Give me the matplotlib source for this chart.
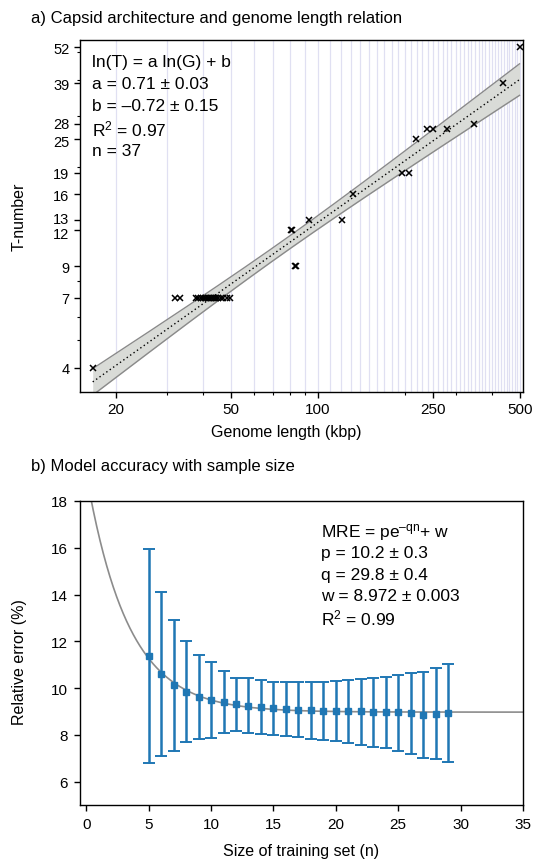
import numpy as np
import matplotlib
matplotlib.use("Agg")
import matplotlib.pyplot as plt
from matplotlib.ticker import FixedLocator, FixedFormatter, LogLocator, NullFormatter
from matplotlib.transforms import ScaledTranslation

plt.rcParams['font.family'] = ['Liberation Sans', 'DejaVu Sans']
plt.rcParams['mathtext.fontset'] = 'custom'
plt.rcParams['mathtext.rm'] = 'Liberation Sans'
plt.rcParams['mathtext.it'] = 'Liberation Sans:italic'

# ---------------- data: panel a ----------------
genome_kbp = [16.6,
              32.1, 33.4, 37.8, 38.5, 39.3, 40.0, 40.5, 41.0, 41.5, 42.0,
              42.5, 43.0, 43.5, 44.0, 44.5, 45.0, 46.0, 47.0, 48.5, 49.5,
              83.0, 84.0,
              80.5, 81.0,
              92.8, 121.6,
              132.0,
              195.0, 207.0,
              218.0,
              238.0, 251.0, 279.0,
              348.0,
              439.0,
              499.0]
t_number = [4,
            7, 7, 7, 7, 7, 7, 7, 7, 7, 7,
            7, 7, 7, 7, 7, 7, 7, 7, 7, 7,
            9, 9,
            12, 12,
            13, 13,
            16,
            19, 19,
            25,
            27, 27, 27,
            28,
            39,
            52]
fit_a, fit_a_err = 0.71, 0.03
fit_b = -0.72
t_ticks = [4, 7, 9, 12, 13, 16, 19, 25, 28, 39, 52]
g_ticks = [20, 50, 100, 250, 500]

# ---------------- data: panel b ----------------
train_n = list(range(5, 30))
mre_mean = [11.38, 10.62, 10.12, 9.84, 9.62, 9.50, 9.41, 9.30, 9.24, 9.18,
            9.13, 9.10, 9.08, 9.07, 9.01, 9.01, 9.00, 9.00, 8.98, 8.97,
            8.96, 8.94, 8.87, 8.91, 8.94]
mre_upper = [15.94, 14.11, 12.91, 12.02, 11.42, 11.12, 10.71, 10.45, 10.41, 10.34,
             10.28, 10.24, 10.25, 10.28, 10.28, 10.31, 10.34, 10.39, 10.44, 10.49,
             10.56, 10.65, 10.69, 10.84, 11.01]
mre_lower = [6.78, 7.10, 7.32, 7.68, 7.84, 7.87, 8.07, 8.16, 8.10, 8.03,
             7.99, 7.94, 7.89, 7.84, 7.77, 7.73, 7.66, 7.57, 7.50, 7.42,
             7.32, 7.19, 7.03, 6.96, 6.82]
p_fit, q_fit, w_fit = 10.2, 29.8, 8.972

fig = plt.figure(figsize=(5.33, 8.62), dpi=100)

# ================= panel a =================
ax1 = fig.add_axes([80/533, 1-393/862, 443/533, 352/862])
G = np.array(genome_kbp)
T = np.array(t_number)
lnG = np.log(G)

# grid lines every 10 kbp
for gx in range(20, 510, 10):
    ax1.axvline(gx, color='#e0e0f2', lw=0.9, zorder=0)

# fit line and confidence band
xs = np.linspace(lnG.min(), lnG.max(), 200)
ys = fit_a * xs + fit_b
n_pts = len(G)
sxx = np.sum((lnG - lnG.mean())**2)
s_res = fit_a_err * np.sqrt(sxx)
hw = 2.03 * s_res * np.sqrt(1.0/n_pts + (xs - lnG.mean())**2 / sxx)
gx_line = np.exp(xs)
ax1.fill_between(gx_line, np.exp(ys - hw), np.exp(ys + hw), color='#d9dbd7', zorder=1, lw=0)
ax1.plot(gx_line, np.exp(ys - hw), color='#8a8a8a', lw=1.0, zorder=2)
ax1.plot(gx_line, np.exp(ys + hw), color='#8a8a8a', lw=1.0, zorder=2)
ax1.plot(gx_line, np.exp(ys), color='black', lw=1.0, ls=(0, (1, 2)), zorder=3)

ax1.plot(G, T, ls='none', marker='x', color='black', ms=4, mew=1.1, zorder=4)

ax1.set_xscale('log')
ax1.set_yscale('log')
ax1.set_xlim(15.0, 513)
ax1.set_ylim(3.3, 55)
ax1.xaxis.set_major_locator(FixedLocator(g_ticks))
ax1.xaxis.set_major_formatter(FixedFormatter([str(v) for v in g_ticks]))
ax1.xaxis.set_minor_locator(LogLocator(base=10, subs=np.arange(2, 10)))
ax1.xaxis.set_minor_formatter(NullFormatter())
ax1.yaxis.set_major_locator(FixedLocator(t_ticks))
ax1.yaxis.set_major_formatter(FixedFormatter([str(v) for v in t_ticks]))
ax1.yaxis.set_minor_locator(LogLocator(base=10, subs=np.arange(2, 10)))
ax1.yaxis.set_minor_formatter(NullFormatter())
ax1.tick_params(which='major', length=4, width=1, labelsize=11, direction='out')
ax1.tick_params(axis='y', which='major', labelsize=10.5)
ax1.tick_params(which='minor', length=2, width=0.8, direction='out')
ax1.set_xlabel('Genome length (kbp)', fontsize=11.5)
ax1.xaxis.set_label_coords(0.465, -0.092)
ax1.set_ylabel('T-number', fontsize=11.5)
ax1.yaxis.set_label_coords(-0.12, 0.5)
for sp in ax1.spines.values():
    sp.set_linewidth(1.0)

# nudge tightly stacked tick labels apart (as in the reference)
nudge = {13: 0.025, 12: -0.025, 28: 0.015, 25: -0.015}
for tk, val in zip(ax1.yaxis.get_major_ticks(), t_ticks):
    if val in nudge:
        tk.label1.set_transform(tk.label1.get_transform() +
                                ScaledTranslation(0, nudge[val], fig.dpi_scale_trans))

lines_a = ['ln(T) = a ln(G) + b',
           'a = 0.71 \u00b1 0.03',
           'b = \u20130.72 \u00b1 0.15',
           'R$^2$ = 0.97',
           'n = 37']
for i, s in enumerate(lines_a):
    ax1.text(0.027, 0.94 - i * 0.0635, s, transform=ax1.transAxes,
             fontsize=12.5, va='center', ha='left')

fig.text(31/533, 1-18/862, 'a) Capsid architecture and genome length relation',
         fontsize=12, va='center', ha='left')

# ================= panel b =================
ax2 = fig.add_axes([80/533, 1-806/862, 443/533, 304/862])
nn = np.linspace(-0.5, 35, 400)
ax2.plot(nn, p_fit * np.exp(-q_fit / 100.0 * nn) + w_fit, color='#8c8c8c', lw=1.2, zorder=1)
mean = np.array(mre_mean)
yerr = np.vstack([mean - np.array(mre_lower), np.array(mre_upper) - mean])
ax2.errorbar(train_n, mean, yerr=yerr, fmt='s', color='#1f77b4', ms=5,
             elinewidth=1.8, capsize=4, capthick=1.4, zorder=3)
ax2.set_xlim(-0.5, 35)
ax2.set_ylim(5, 18)
ax2.set_xticks(range(0, 36, 5))
ax2.set_yticks(range(6, 19, 2))
ax2.tick_params(which='major', length=4, width=1, labelsize=11, direction='out', pad=5)
ax2.set_xlabel('Size of training set (n)', fontsize=11.5)
ax2.xaxis.set_label_coords(0.5, -0.125)
ax2.set_ylabel('Relative error (%)', fontsize=11.5)
ax2.yaxis.set_label_coords(-0.12, 0.474)
for sp in ax2.spines.values():
    sp.set_linewidth(1.0)

lines_b = ['MRE = pe$^{\u2013\\mathrm{qn}}$+ w',
           'p = 10.2 \u00b1 0.3',
           'q = 29.8 \u00b1 0.4',
           'w = 8.972 \u00b1 0.003',
           'R$^2$ = 0.99']
for i, s in enumerate(lines_b):
    ax2.text(0.545, 0.9 - i * 0.0707, s, transform=ax2.transAxes,
             fontsize=12.5, va='center', ha='left')

fig.text(31/533, 1-467/862, 'b) Model accuracy with sample size',
         fontsize=12, va='center', ha='left')

fig.savefig('out.png', dpi=100)
